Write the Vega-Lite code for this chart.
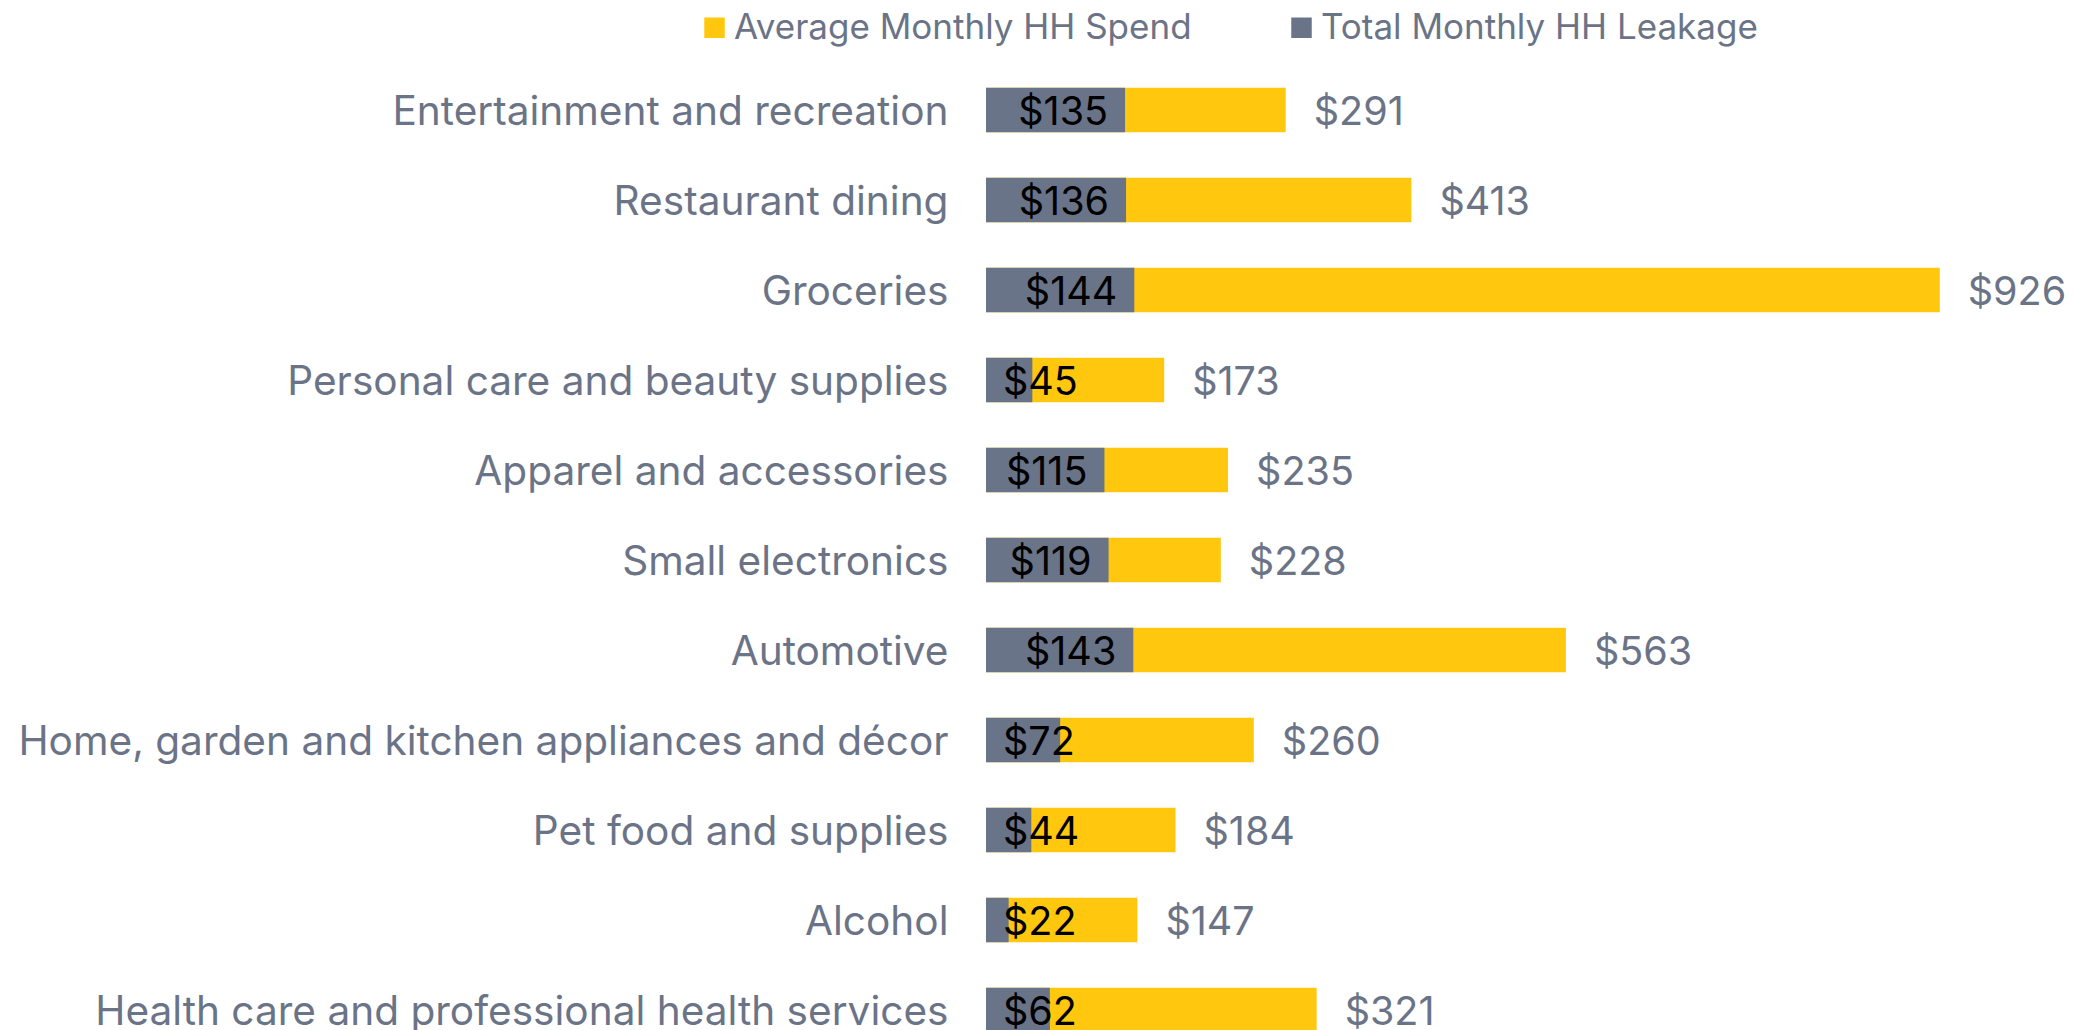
{
  "$schema": "https://vega.github.io/schema/vega-lite/v6.json",
  "autosize": {"type": "none"},
  "padding": {"left": 986, "top": 65, "right": 61, "bottom": 0},
  "width": 1030,
  "height": 990,
  "background": "white",
  "config": {
    "view": {"stroke": null},
    "font": "Inter",
    "text": {"font": "Inter"}
  },
  "data": {
    "values": [
      {"category": "Entertainment and recreation", "spend": 291, "leakage": 135},
      {"category": "Restaurant dining", "spend": 413, "leakage": 136},
      {"category": "Groceries", "spend": 926, "leakage": 144},
      {"category": "Personal care and beauty supplies", "spend": 173, "leakage": 45},
      {"category": "Apparel and accessories", "spend": 235, "leakage": 115},
      {"category": "Small electronics", "spend": 228, "leakage": 119},
      {"category": "Automotive", "spend": 563, "leakage": 143},
      {"category": "Home, garden and kitchen appliances and décor", "spend": 260, "leakage": 72},
      {"category": "Pet food and supplies", "spend": 184, "leakage": 44},
      {"category": "Alcohol", "spend": 147, "leakage": 22},
      {"category": "Health care and professional health services", "spend": 321, "leakage": 62}
    ]
  },
  "encoding": {
    "y": {
      "field": "category",
      "type": "nominal",
      "sort": null,
      "scale": {"paddingInner": 0.504, "paddingOuter": 0.252},
      "axis": {
        "title": null,
        "domain": false,
        "ticks": false,
        "labelPadding": 38,
        "labelOffset": 3,
        "labelFontSize": 40.6,
        "labelColor": "#6B7487",
        "labelFont": "Inter",
        "labelLimit": 1200
      }
    }
  },
  "layer": [
    {
      "mark": {"type": "bar"},
      "encoding": {
        "x": {"field": "spend", "type": "quantitative", "scale": {"domain": [0, 1000]}, "axis": null},
        "color": {
          "datum": "Average Monthly HH Spend",
          "type": "nominal",
          "scale": {
            "domain": ["Average Monthly HH Spend", "Total Monthly HH Leakage"],
            "range": ["#FFC80F", "#6A7488"]
          },
          "legend": {
            "title": null,
            "orient": "none",
            "direction": "horizontal",
            "legendX": -289,
            "legendY": -55,
            "symbolType": "square",
            "symbolSize": 420,
            "symbolStrokeWidth": 0,
            "labelFontSize": 35,
            "labelColor": "#6B7487",
            "labelFont": "Inter",
            "labelOffset": 2,
            "columnPadding": 92,
            "labelLimit": 800
          }
        }
      }
    },
    {
      "mark": {"type": "bar"},
      "encoding": {
        "x": {"field": "leakage", "type": "quantitative"},
        "color": {"datum": "Total Monthly HH Leakage", "type": "nominal"}
      }
    },
    {
      "mark": {"type": "text", "align": "left", "baseline": "middle", "dx": 28, "dy": 3, "fontSize": 39.5, "color": "#6B7487"},
      "encoding": {
        "x": {"field": "spend", "type": "quantitative"},
        "text": {"field": "spend", "type": "quantitative", "format": "$.0f"}
      }
    },
    {
      "transform": [{"filter": "datum.leakage >= 100"}],
      "mark": {"type": "text", "align": "right", "baseline": "middle", "dx": -17, "dy": 3, "fontSize": 39.5, "color": "#000000"},
      "encoding": {
        "x": {"field": "leakage", "type": "quantitative"},
        "text": {"field": "leakage", "type": "quantitative", "format": "$.0f"}
      }
    },
    {
      "transform": [{"filter": "datum.leakage < 100"}],
      "mark": {"type": "text", "align": "left", "baseline": "middle", "dx": 17, "dy": 3, "fontSize": 39.5, "color": "#000000"},
      "encoding": {
        "x": {"datum": 0, "type": "quantitative"},
        "text": {"field": "leakage", "type": "quantitative", "format": "$.0f"}
      }
    }
  ]
}
